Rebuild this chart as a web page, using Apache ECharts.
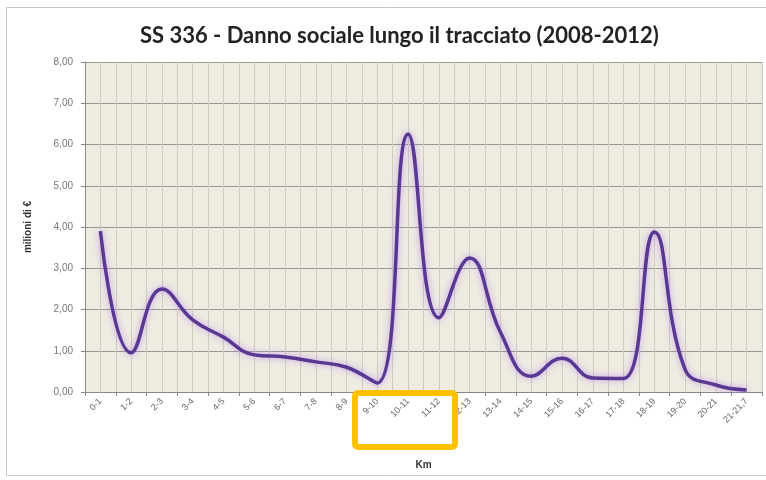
<!DOCTYPE html>
<html>
<head>
<meta charset="utf-8">
<script src="https://cdn.jsdelivr.net/npm/echarts@6/dist/echarts.min.js"></script>
<style>
    html, body {
        margin: 0;
        padding: 0;
        background: #ffffff;
    }
    #chart {
        width: 766px;
        height: 480px;
    }
</style>
</head>
<body>
<div id="chart"></div>
<script>
    // tratti km lungo la SS 336
    var tratti = ['0-1', '1-2', '2-3', '3-4', '4-5', '5-6', '6-7', '7-8', '8-9', '9-10', '10-11',
      '11-12', '12-13', '13-14', '14-15', '15-16', '16-17', '17-18', '18-19', '19-20', '20-21', '21-21,7'];
    // danno sociale, milioni di euro
    var danno = [3.9, 0.95, 2.5, 1.75, 1.33, 0.9, 0.85, 0.73, 0.6, 0.22, 6.25,
      1.8, 3.25, 1.45, 0.38, 0.82, 0.34, 0.33, 3.88, 0.55, 0.17, 0.05];
    var yTicks = [0, 1, 2, 3, 4, 5, 6, 7, 8];

    var myChart = echarts.init(document.getElementById('chart'));

    var option = {
      backgroundColor: '#ffffff',
      animation: false,
      title: {
        text: 'SS 336 - Danno sociale lungo il tracciato (2008-2012)',
        left: 135,
        top: 20,
        textStyle: {
          fontFamily: 'Lato',
          fontWeight: 'bold',
          fontSize: 22,
          color: '#222222'
        }
      },
      graphic: [
        {
          type: 'rect',
          shape: {x: 6.5, y: 7.5, width: 770, height: 468},
          style: {fill: 'none', stroke: '#c8c8c8', lineWidth: 1},
          silent: true
        },
        {
          // riquadro evidenziato (km 9-12)
          type: 'rect',
          shape: {x: 355, y: 393, width: 100, height: 54, r: 3},
          style: {fill: 'none', stroke: '#ffc000', lineWidth: 6},
          silent: true,
          z: 100
        }
      ],
      grid: {
        left: 85,
        right: 4,
        top: 62,
        bottom: 88,
        backgroundColor: '#eeebe1',
        show: true,
        borderWidth: 0
      },
      xAxis: [
        {
          type: 'category',
          data: tratti,
          name: 'Km',
          nameLocation: 'middle',
          nameGap: 68,
          nameTextStyle: {fontSize: 10, fontWeight: 'bold', color: '#333', fontFamily: 'Liberation Sans'},
          boundaryGap: true,
          axisLine: {lineStyle: {color: '#888'}},
          axisTick: {show: true, alignWithLabel: false, length: 4, lineStyle: {color: '#888'}},
          axisLabel: {
            rotate: 45,
            interval: 0,
            fontSize: 9,
            color: '#666',
            margin: 8,
            fontFamily: 'Liberation Sans'
          },
          splitLine: {show: false}
        },
        {
          // griglia verticale fine (ogni mezzo tratto)
          type: 'value',
          min: 0,
          max: 22,
          interval: 0.5,
          position: 'bottom',
          axisLine: {show: false},
          axisTick: {show: false},
          axisLabel: {show: false},
          splitLine: {show: true, lineStyle: {color: '#cfccc0', width: 1}}
        }
      ],
      yAxis: {
        type: 'value',
        min: yTicks[0],
        max: yTicks[yTicks.length - 1],
        interval: 1,
        name: 'milioni di €',
        nameLocation: 'middle',
        nameGap: 52,
        nameTextStyle: {fontSize: 10, fontWeight: 'bold', color: '#333', fontFamily: 'Liberation Sans'},
        axisLine: {show: true, lineStyle: {color: '#888'}},
        axisTick: {show: true, length: 4, lineStyle: {color: '#888'}},
        axisLabel: {
          fontSize: 10,
          color: '#777',
          margin: 12,
          fontFamily: 'Liberation Sans',
          formatter: function (v) {
            return v.toFixed(2).replace('.', ',');
          }
        },
        splitLine: {show: true, lineStyle: {color: '#9a9890', width: 1}}
      },
      series: [
        {
          name: 'Danno sociale',
          type: 'line',
          xAxisIndex: 0,
          data: danno,
          smooth: 0.45,
          symbol: 'none',
          lineStyle: {
            color: '#583890',
            width: 3.5,
            shadowColor: 'rgba(180, 130, 240, 0.8)',
            shadowBlur: 6
          },
          z: 5
        }
      ]
    };

    myChart.setOption(option);
</script>
</body>
</html>
